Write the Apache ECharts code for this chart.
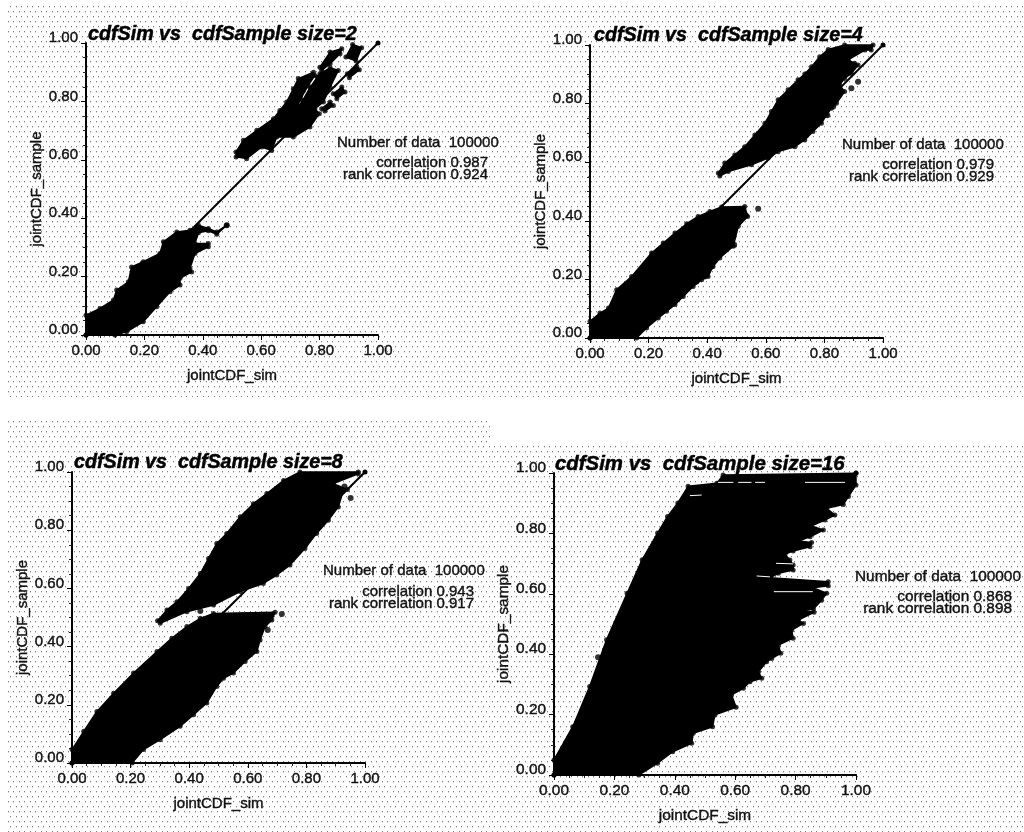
<!DOCTYPE html>
<html>
<head>
<meta charset="utf-8">
<style>
  html, body { margin: 0; padding: 0; background: #fff; }
  #chart { width: 1024px; height: 832px; }
</style>
<script src="https://cdn.jsdelivr.net/npm/echarts@6/dist/echarts.min.js"></script>
</head>
<body>
<div id="chart"></div>
<script>
// values, [jointCDF_sim, jointCDF_sample]
var tickValues = [0, 0.2, 0.4, 0.6, 0.8, 1];
var sizes = [2, 4, 8, 16];
var numberOfData = [100000, 100000, 100000, 100000];
var correlation = ['0.987', '0.979', '0.943', '0.868'];
var rankCorrelation = ['0.924', '0.929', '0.917', '0.898'];
var diagonal = [[0, 0], [1, 1]];

// size=2
var size2Lower = [[0,0],[0,.068],[.048,.091],[.094,.12],[.105,.154],[.145,.182],[.156,.233],[.196,.251],[.253,.279],[.265,.319],[.311,.353],[.356,.359],[.385,.376],[.419,.365],[.448,.353],[.482,.376],[.448,.345],[.419,.357],[.385,.35],[.373,.313],[.419,.313],[.419,.302],[.373,.279],[.356,.228],[.362,.216],[.322,.194],[.322,.171],[.288,.148],[.242,.097],[.196,.045],[.139,.011],[.099,0]];
var size2Upper = [[.514,.627],[.539,.667],[.585,.701],[.642,.741],[.664,.769],[.687,.798],[.71,.843],[.727,.878],[.779,.9],[.784,.889],[.761,.855],[.735,.809],[.716,.764],[.742,.803],[.767,.847],[.792,.883],[.801,.895],[.836,.915],[.864,.906],[.836,.849],[.813,.798],[.784,.775],[.799,.758],[.767,.712],[.71,.678],[.653,.678],[.636,.632],[.602,.644],[.55,.604],[.514,.61]];
var size2BlobA = [[.801,.917],[.836,.969],[.876,.98],[.87,.963],[.836,.929],[.807,.906]];
var size2BlobB = [[.89,.952],[.913,.995],[.944,.984],[.925,.938]];
var size2BlobC = [[.895,.895],[.927,.92],[.936,.908],[.902,.881]];
var size2BlobD = [[.847,.826],[.876,.849],[.887,.832],[.859,.809]];
var size2BlobE = [[.807,.775],[.836,.798],[.847,.786],[.818,.767]];
var size2Points = [[.482,.376]];

// size=4
var size4Lower = [[0,0],[0,.057],[.034,.085],[.063,.102],[.091,.165],[.142,.21],[.21,.29],[.25,.324],[.29,.358],[.33,.39],[.369,.415],[.409,.432],[.449,.447],[.528,.449],[.538,.415],[.506,.381],[.489,.313],[.443,.273],[.42,.244],[.403,.21],[.381,.199],[.352,.176],[.318,.142],[.29,.114],[.261,.091],[.233,.068],[.193,.034],[.159,0]];
var size4Upper = [[.438,.563],[.46,.597],[.494,.625],[.528,.653],[.5625,.693],[.597,.733],[.619,.773],[.642,.813],[.676,.847],[.71,.881],[.733,.901],[.756,.926],[.784,.96],[.813,.985],[.869,1],[.966,1],[.96,.983],[.938,.983],[.881,.949],[.903,.938],[.915,.932],[.892,.903],[.869,.886],[.852,.864],[.869,.841],[.841,.801],[.824,.784],[.807,.761],[.79,.733],[.761,.705],[.733,.676],[.699,.653],[.642,.636],[.608,.614],[.551,.591],[.472,.568],[.443,.553]];
var size4Points = [[.574,.441],[.532,.418],[.492,.318],[.415,.244],[.392,.21],[.364,.193],[.915,.875],[.892,.852],[.83,.79],[.81,.76]];

// size=8
var size8Lower = [[0,0],[0,.046],[.04,.109],[.085,.177],[.142,.24],[.21,.309],[.29,.383],[.341,.429],[.392,.469],[.438,.497],[.483,.514],[.693,.518],[.682,.491],[.659,.469],[.642,.423],[.631,.383],[.591,.349],[.551,.309],[.517,.291],[.494,.263],[.46,.206],[.415,.166],[.369,.126],[.301,.08],[.244,.046],[.205,0]];
var size8Upper = [[.292,.489],[.324,.526],[.358,.554],[.398,.6],[.438,.651],[.466,.703],[.494,.754],[.528,.789],[.574,.846],[.619,.891],[.665,.926],[.722,.971],[.778,1],[.977,1],[.977,.994],[.892,.96],[.94,.94],[.926,.937],[.909,.88],[.875,.834],[.835,.789],[.795,.737],[.744,.68],[.699,.646],[.653,.617],[.574,.589],[.483,.543],[.392,.52],[.301,.48]];
var size8Points = [[.716,.512],[.668,.457],[.655,.49],[.63,.43],[.951,.911],[.438,.522],[.93,.95],[.9,.93]];

// size=16
var size16Cloud = [[0,0],[0,.05],[.062,.16],[.118,.293],[.174,.448],[.242,.602],[.292,.713],[.343,.801],[.376,.856],[.41,.901],[.444,.956],[.539,.966],[.56,.993],[1,.999],[1,.96],[.975,.922],[.958,.896],[.903,.883],[.93,.861],[.897,.844],[.853,.825],[.892,.811],[.848,.789],[.809,.775],[.853,.77],[.848,.756],[.792,.742],[.765,.731],[.781,.712],[.792,.695],[.792,.679],[.743,.668],[.715,.653],[.908,.64],[.908,.627],[.857,.62],[.903,.602],[.886,.579],[.859,.55],[.826,.546],[.861,.539],[.809,.513],[.826,.502],[.787,.48],[.792,.453],[.743,.43],[.751,.403],[.721,.386],[.704,.375],[.677,.342],[.688,.32],[.649,.309],[.627,.287],[.588,.265],[.603,.224],[.533,.199],[.525,.16],[.461,.138],[.456,.105],[.393,.077],[.343,.039],[.281,0]];
var size16Points = [[.146,.39],[.169,.414]];
var size16Streaks = [
  [[.671,.659],[.715,.656]],
  [[.735,.701],[.792,.699]],
  [[.728,.607],[.857,.607]],
  [[.543,.969],[.594,.969]],
  [[.61,.969],[.654,.969]],
  [[.666,.969],[.699,.969]],
  [[.831,.969],[.964,.969]],
  [[.45,.925],[.489,.927]]
];

var clouds = [
  [size2Lower, size2Upper, size2BlobA, size2BlobB, size2BlobC, size2BlobD, size2BlobE],
  [size4Lower, size4Upper],
  [size8Lower, size8Upper],
  [size16Cloud]
];
var outliers = [size2Points, size4Points, size8Points, size16Points];

// where each panel sits on the page
var panels = [
  { left: 86, top: 43, width: 292, height: 292, font: 15, titleFont: 19.7, titleX: 88, titleY: 25, gapY: 40, statX: 337, statR: 488, statY: 143, corrY: 163, rankY: 175 },
  { left: 590, top: 45, width: 293, height: 293, font: 15, titleFont: 19.7, titleX: 594, titleY: 26, gapY: 40, statX: 842, statR: 994, statY: 145, corrY: 165, rankY: 177 },
  { left: 72, top: 472, width: 293, height: 291, font: 15, titleFont: 19.7, titleX: 74, titleY: 453, gapY: 40, statX: 323, statR: 474, statY: 571, corrY: 592, rankY: 604 },
  { left: 554, top: 473, width: 302, height: 302, font: 15.4, titleFont: 20.4, titleX: 555, titleY: 454, gapY: 40, statX: 855, statR: 1012, statY: 577, corrY: 597, rankY: 609 }
];

// dithered grey of the scan
function ditherTile() {
  var c = document.createElement('canvas');
  c.width = 11;
  c.height = 10;
  var g = c.getContext('2d');
  g.fillStyle = '#fff';
  g.fillRect(0, 0, 11, 10);
  g.fillStyle = '#7c7c7c';
  g.fillRect(2, 1, 1, 1);
  g.fillRect(8, 1, 1, 1);
  g.fillRect(5, 6, 1, 1);
  g.fillRect(10, 6, 1, 1);
  g.fillStyle = '#d6d6d6';
  g.fillRect(2, 2, 1, 1);
  g.fillRect(8, 2, 1, 1);
  g.fillRect(5, 7, 1, 1);
  g.fillRect(10, 7, 1, 1);
  return c;
}
var tile = ditherTile();

function polygonItem(params, api) {
  if (params.context.drawn) return;
  params.context.drawn = true;
  var pts = [];
  for (var i = 0; i < params.dataInsideLength; i++) {
    pts.push(api.coord([api.value(0, i), api.value(1, i)]));
  }
  return {
    type: 'polygon',
    shape: { points: pts },
    style: { fill: '#000', stroke: '#000', lineWidth: 1.5, lineJoin: 'round' }
  };
}

function shownText(text, x, y, align, size) {
  return {
    type: 'text', x: x, y: y, z: 20,
    style: {
      text: text, x: 0, y: 0, align: align, verticalAlign: 'middle',
      font: size + 'px "Liberation Sans", sans-serif',
      fill: '#111', stroke: '#111', lineWidth: 0.4
    }
  };
}

var grids = [], xAxes = [], yAxes = [], titles = [], series = [];
var graphics = [
  { type: 'rect', z: -10, shape: { x: 8, y: 4, width: 1016, height: 393 }, style: { fill: { image: tile, repeat: 'repeat' } } },
  { type: 'rect', z: -10, shape: { x: 8, y: 420, width: 484, height: 25 }, style: { fill: { image: tile, repeat: 'repeat' } } },
  { type: 'rect', z: -10, shape: { x: 8, y: 445, width: 1016, height: 387 }, style: { fill: { image: tile, repeat: 'repeat' } } }
];

panels.forEach(function (p, i) {
  grids.push({ left: p.left, top: p.top, width: p.width, height: p.height });
  var axisBase = {
    type: 'value', min: 0, max: 1, interval: tickValues[1] - tickValues[0],
    nameLocation: 'middle',
    nameTextStyle: { color: '#111', fontSize: p.font, fontFamily: 'Liberation Sans', textBorderColor: '#111', textBorderWidth: 0.4 },
    axisLine: { show: true, onZero: false, lineStyle: { color: '#000', width: 2 } },
    axisTick: { show: true, length: 5, lineStyle: { color: '#000', width: 1 } },
    minorTick: { show: true, splitNumber: 4, length: 3, lineStyle: { color: '#222', width: 1 } },
    splitLine: { show: false }
  };
  var labelBase = {
    showMinLabel: true, showMaxLabel: true, color: '#111', fontSize: p.font, fontFamily: 'Liberation Sans',
    textBorderColor: '#111', textBorderWidth: 0.4,
    formatter: function (v) { return v.toFixed(2); }
  };
  xAxes.push(Object.assign({}, axisBase, {
    gridIndex: i, name: 'jointCDF_sim', nameGap: 33,
    axisLabel: Object.assign({}, labelBase, { margin: 8 })
  }));
  yAxes.push(Object.assign({}, axisBase, {
    gridIndex: i, name: 'jointCDF_sample', nameGap: p.gapY,
    axisLabel: Object.assign({}, labelBase, { margin: 8, verticalAlign: 'bottom', lineHeight: 10 })
  }));
  titles.push({
    text: 'cdfSim vs  cdfSample size=' + sizes[i], left: p.titleX, top: p.titleY, padding: 0,
    textStyle: {
      fontFamily: 'Liberation Sans', fontStyle: 'italic', fontWeight: 'bold', fontSize: p.titleFont, color: '#000',
      textBorderColor: '#000', textBorderWidth: 0.5
    }
  });

  series.push({
    type: 'line', xAxisIndex: i, yAxisIndex: i, data: diagonal, silent: true, animation: false, z: 3,
    symbol: 'circle', symbolSize: 5, itemStyle: { color: '#000' }, lineStyle: { color: '#000', width: 2 }
  });
  clouds[i].forEach(function (poly) {
    series.push({
      type: 'custom', xAxisIndex: i, yAxisIndex: i, data: poly, renderItem: polygonItem,
      silent: true, animation: false, z: 4, clip: false
    });
    // the cloud edge is made of round markers
    series.push({
      type: 'scatter', xAxisIndex: i, yAxisIndex: i, data: poly, silent: true, animation: false, z: 4,
      symbolSize: 5, itemStyle: { color: '#000' }
    });
  });
  series.push({
    type: 'scatter', xAxisIndex: i, yAxisIndex: i, data: outliers[i], silent: true, animation: false, z: 5,
    symbolSize: 6, itemStyle: { color: '#000' }
  });

  graphics.push(shownText('Number of data  ' + numberOfData[i], p.statX, p.statY, 'left', p.font));
  graphics.push(shownText('correlation ' + correlation[i], p.statR, p.corrY, 'right', p.font));
  graphics.push(shownText('rank correlation ' + rankCorrelation[i], p.statR, p.rankY, 'right', p.font));
});

size16Streaks.forEach(function (s) {
  series.push({
    type: 'line', xAxisIndex: 3, yAxisIndex: 3, data: s, silent: true, animation: false, z: 6,
    symbol: 'none', lineStyle: { color: '#fff', width: 1 }
  });
});

var chart = echarts.init(document.getElementById('chart'), null, { renderer: 'canvas' });
chart.setOption({
  animation: false,
  backgroundColor: '#fff',
  title: titles,
  grid: grids,
  xAxis: xAxes,
  yAxis: yAxes,
  graphic: graphics,
  series: series
});
</script>
</body>
</html>
